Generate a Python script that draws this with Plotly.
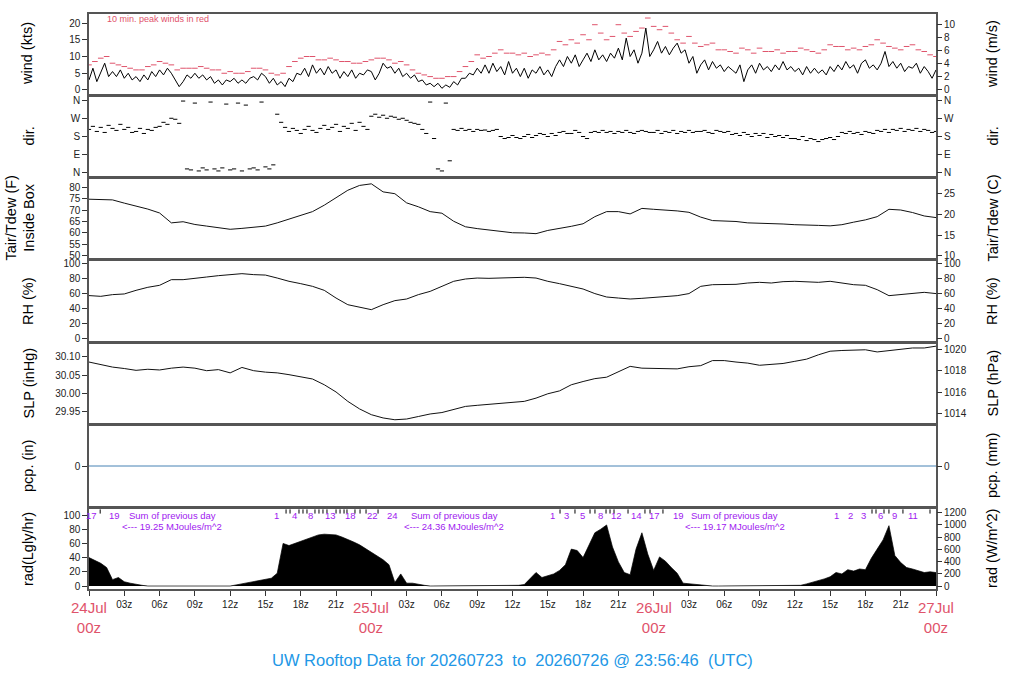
"""
UW rooftop station - 3 day meteogram (wind, dir, T, RH, SLP, pcp, rad)
"""
import numpy as np
import plotly.graph_objects as go

# ---------------- data (hours after 24Jul 00z) ----------------
# wind speed every 20 min (kts)
wind_kts = [
    3, 6.5, 2.5, 5, 8, 4, 5.5, 4, 6, 3.5, 5, 3, 4, 2.5, 4.5, 3, 5.5, 4,
    6, 4.5, 6.5, 5, 3, 1, 2.5, 4.5, 3.5, 5, 3.5, 4.5, 3, 4, 2, 3, 1.5, 3,
    2.5, 3.5, 2, 3, 2, 3.5, 4, 3, 5, 4, 2, 3.5, 1.5, 2.5, 1, 3.5, 2.5, 5,
    4.5, 6.5, 4, 7.5, 5, 6.5, 4.5, 7, 5, 6, 3.5, 5.5, 4, 6, 3.5, 5, 4.5, 6,
    5.5, 3, 5, 8, 6.5, 7, 5, 6.5, 4, 5, 3.5, 4.5, 2.5, 3, 1.5, 2, 1, 2,
    0.5, 1.5, 0.8, 2.5, 1.5, 3.5, 3.5, 5, 4.5, 6.5, 5, 7.5, 5, 8, 5.5, 7, 4.5, 8.5,
    5, 6.5, 4, 6.5, 3.5, 6, 5, 7, 4.5, 6, 4, 7, 9, 7, 10, 8, 10.5, 7,
    9, 11, 8.5, 12, 9, 10.5, 8.5, 11, 9.5, 12.5, 9, 15.5, 10, 12, 8, 11, 18.5, 10,
    12, 14.5, 11, 13, 10.5, 12.5, 14, 11, 12, 8, 10, 5, 7.5, 9, 6, 8.5, 6.5, 7.5,
    5.5, 7, 6, 5, 7.5, 2.5, 6, 7.5, 5, 8, 6, 7, 5.5, 7.5, 6, 8.5, 6, 7,
    5.5, 6.5, 4.5, 7, 5, 6.5, 5, 6, 4.5, 7, 5.5, 7.5, 6, 8.5, 6.5, 7.5, 5, 8,
    9, 6.5, 7.5, 6, 8, 11.5, 7, 8.5, 6.5, 8, 5.5, 7, 6.5, 8, 5, 7, 5.5, 3.5,
    6,
]
# 10 min peak winds, every 30 min (kts)
peak_kts = [
    7.5, 8.5, 9.5, 10, 8, 7.5, 7, 6.5, 6, 6, 7, 7.5, 8.5, 8, 7.5, 6,
    6.5, 6.5, 6.5, 7, 6.5, 6, 6, 5, 5.5, 5, 5, 5.5, 6.5, 6.5, 6, 5,
    4.5, 5, 7, 8.5, 9.5, 10, 10, 9, 9, 9.5, 9, 8.5, 8.5, 8, 8, 8.5,
    9, 9.5, 9.5, 9, 8, 8.5, 7.5, 6, 5, 4.5, 4, 3.5, 3.5, 4, 4, 5.5,
    7, 8.5, 10.5, 9.5, 10, 11, 12, 11, 11, 10.5, 11, 10, 10.5, 11, 10.5, 12,
    14.5, 13.5, 15, 14, 16.5, 15, 19.5, 17, 15, 16, 19.5, 17, 16, 17.5, 18.5, 21.5,
    19, 18, 19, 17, 15, 14, 16, 14, 13, 13.5, 14, 12, 12, 11.5, 11, 12.5,
    12, 11, 12.5, 11.5, 11.5, 12, 11, 11.5, 11.5, 12.5, 12, 11.5, 11, 12, 13.5, 13,
    13, 12, 12.5, 12, 13, 13.5, 15, 14, 13, 12.5, 12, 13, 13.5, 12, 11.5, 10.5,
    10,
]
# wind direction every 20 min (deg, 0 = N)
wind_dir = [
    215, 230, 205, 225, 200, 235, 220, 210, 240, 215, 225, 200, 205, 220, 195, 215, 210, 225,
    230, 250, 240, 270, 265, 245, 355, 20, 15, 345, 10, 25, 15, 350, 20, 10, 25, 340,
    15, 20, 345, 10, 335, 20, 25, 15, 350, 30, 20, 40, 290, 250, 225, 205, 220, 210,
    195, 215, 230, 210, 200, 220, 235, 215, 225, 240, 205, 230, 220, 245, 210, 250, 230, 215,
    280, 290, 275, 285, 270, 280, 275, 265, 270, 260, 250, 245, 240, 215, 195, 350, 170, 20,
    10, 345, 60, 215, 210, 220, 210, 215, 205, 215, 210, 212, 205, 210, 215, 180, 170, 175,
    185, 175, 170, 180, 190, 175, 185, 195, 190, 180, 195, 185, 200, 205, 195, 195, 210, 200,
    180, 170, 200, 205, 200, 210, 200, 205, 195, 205, 200, 210, 200, 195, 205, 210, 205, 200,
    200, 210, 195, 205, 200, 210, 195, 205, 200, 210, 200, 205, 205, 210, 200, 195, 210, 205,
    200, 205, 190, 195, 185, 200, 190, 180, 195, 185, 195, 175, 190, 180, 185, 175, 185, 170,
    170, 165, 180, 160, 170, 165, 155, 165, 170, 175, 165, 180, 200, 195, 205, 195, 200, 190,
    205, 200, 195, 210, 205, 215, 200, 215, 210, 220, 205, 215, 210, 220, 205, 215, 210, 200,
    205,
]
# hourly values
temp_f = [
    74.7, 74.7, 74.4, 73.0, 71.8, 70.4, 68.7, 64.4, 64.9, 63.7,
    63.0, 62.3, 61.6, 62.0, 62.6, 63.0, 64.4, 66.0, 67.9, 69.3,
    72.1, 75.4, 78.6, 80.7, 81.4, 77.9, 77.1, 73.1, 71.4, 69.3,
    68.6, 65.1, 62.7, 61.9, 61.3, 60.7, 60.1, 60.0, 59.7, 61.1,
    61.9, 62.9, 64.0, 67.1, 69.3, 69.3, 68.3, 70.7, 70.3, 70.0,
    69.6, 69.0, 66.9, 65.4, 65.3, 65.0, 64.4, 64.3, 64.0, 63.9,
    63.6, 63.6, 63.3, 63.1, 63.6, 64.7, 65.7, 67.1, 70.3, 70.0,
    68.9, 67.4, 66.7,
]
rh_pct = [
    57.3, 56.3, 58.6, 59.5, 64.4, 68.5, 71.2, 78.8, 78.8, 81.0,
    82.4, 84.2, 85.6, 86.9, 85.6, 85.0, 81.0, 76.6, 73.4, 69.8,
    64.4, 54.0, 45.0, 41.4, 38.3, 45.0, 50.5, 52.7, 58.6, 63.0,
    69.8, 76.6, 79.7, 81.0, 80.6, 81.0, 81.5, 82.0, 81.0, 76.6,
    73.4, 69.8, 66.2, 60.0, 55.4, 54.0, 52.7, 53.6, 54.5, 55.4,
    57.2, 60.0, 69.8, 72.0, 72.0, 72.5, 74.3, 75.2, 74.3, 76.1,
    76.6, 75.7, 75.2, 76.6, 74.3, 72.0, 71.2, 65.3, 57.2, 58.6,
    60.8, 61.7, 60.0,
]
slp_inhg = [
    30.086, 30.079, 30.072, 30.068, 30.063, 30.066, 30.064, 30.069, 30.072, 30.069,
    30.062, 30.065, 30.056, 30.071, 30.062, 30.058, 30.056, 30.051, 30.046, 30.039,
    30.023, 30.003, 29.977, 29.956, 29.940, 29.931, 29.926, 29.928, 29.935, 29.942,
    29.946, 29.954, 29.963, 29.966, 29.969, 29.972, 29.974, 29.977, 29.986, 29.998,
    30.006, 30.023, 30.032, 30.040, 30.044, 30.058, 30.074, 30.069, 30.069, 30.069,
    30.067, 30.073, 30.076, 30.090, 30.090, 30.086, 30.083, 30.077, 30.079, 30.082,
    30.088, 30.094, 30.106, 30.116, 30.118, 30.118, 30.120, 30.114, 30.118, 30.120,
    30.125, 30.125, 30.130,
]
pcp_hours = [0, 72]
pcp_in = [0.0, 0.0]
# solar radiation every 30 min (Langley/hr)
rad_lgly = [
    40, 36, 32, 26, 9, 12, 6, 4, 2, 1,
    0, 0, 0, 0, 0, 0, 0, 0, 0, 0, 0, 0, 0, 0,
    0, 1.5, 3, 4.5, 6, 7.5, 9, 11,
    18, 60, 57, 60, 64, 67, 70, 72,
    73, 73, 72, 69, 66, 62, 58, 53,
    48, 43, 37, 30, 5, 17, 4, 4,
    2, 1,
    0, 0, 0, 0, 0, 0, 0, 0, 0, 0, 0, 0, 0, 0,
    0, 1, 2, 10, 19, 12, 14, 17,
    22, 30, 52, 50, 40, 58, 75, 80,
    86, 55, 34, 19, 16, 52, 75, 45,
    22, 41, 35, 26, 18, 4, 3, 2,
    1.5, 0.5,
    0, 0, 0, 0, 0, 0, 0, 0, 0, 0, 0, 0, 0, 0,
    0, 1, 3, 5, 7, 10, 13, 19,
    17, 23, 21, 24, 23, 39, 52, 65,
    85, 43, 33, 26, 24, 22, 19, 20,
    19,
]
# hours at which the daily accumulated radiation passed each MJ/m^2
rad_mj_hours = [
    0.25, 0.95, 2.2,
    15.98, 16.75, 17.09, 17.43, 17.85, 18.19, 18.53, 18.87, 19.21, 19.55, 19.89, 20.23,
    20.57, 21.0, 21.34, 21.68, 21.93, 22.27, 22.61, 23.04, 23.55, 24.06, 24.57, 25.84,
    39.36, 40.04, 40.63, 41.31, 41.99, 42.59, 43.01, 43.44, 43.95, 44.29, 44.63, 44.88,
    45.82, 46.58, 47.26, 47.69, 48.11, 48.79, 50.15,
    63.5, 64.69, 65.8, 66.56, 66.9, 67.24, 67.58, 68.0, 68.43, 69.19, 70.04, 71.49,
]
rad_mj_labels = [
    '17', '', '19',
    '1', '', '', '4', '', '', '', '8', '', '', '', '', '13', '', '', '', '', '18',
    '', '', '', '22', '', '24',
    '1', '', '3', '', '5', '', '', '8', '', '', '', '12', '', '14', '', '', '17', '', '19',
    '1', '2', '3', '', '', '6', '', '', '9', '', '11', '',
]
sum_hours = [7.06, 31.03, 54.9]
sum_mjoules = [19.25, 24.36, 19.17]
day_labels = ['24Jul', '25Jul', '26Jul', '27Jul']
day_hours = [0, 24, 48, 72]

hours_20 = np.arange(len(wind_kts)) / 3.0
hours_30 = np.arange(len(peak_kts)) / 2.0
hours_1 = np.arange(len(temp_f))

# ---------------- style ----------------
FONT = 'Liberation Sans, Arial, Helvetica, sans-serif'
RED = '#DF536B'
BLUE = '#2297E6'
PURPLE = '#A020F0'
FRAME = '#555555'
TICKFONT = dict(size=10, color='#222222', family=FONT)

PLOT_TOP, PLOT_BOT = 14, 589   # px of plotting area


def dom(top, bot):
    h = PLOT_BOT - PLOT_TOP
    return [(PLOT_BOT - bot) / h, (PLOT_BOT - top) / h]


def py(px):
    return (PLOT_BOT - px) / (PLOT_BOT - PLOT_TOP)


def px_x(px):
    return (px - 89) / 847


domains = [dom(14, 94), dom(97, 176), dom(179, 258), dom(261, 341),
           dom(344, 423), dom(426, 506), dom(509, 589)]

KT2MS = 0.514444
INHG2HPA = 33.8639
LGLY2W = 11.622

left_axes = [
    dict(range=[-1.2, 22.7], tickvals=[0, 5, 10, 15, 20]),
    dict(range=[-15, 375], tickvals=[0, 90, 180, 270, 360],
         ticktext=['N', 'E', 'S', 'W', 'N']),
    dict(range=[49.1, 83.5], tickvals=[50, 55, 60, 65, 70, 75, 80]),
    dict(range=[-4, 104], tickvals=[0, 20, 40, 60, 80, 100]),
    dict(range=[29.917, 30.136], tickvals=[29.95, 30.0, 30.05, 30.10], tickformat='.2f'),
    dict(range=[-1, 1], tickvals=[0]),
    dict(range=[-4.2, 108.5], tickvals=[0, 20, 40, 60, 80, 100]),
]
right_axes = [
    dict(range=[-1.2 * KT2MS, 22.7 * KT2MS], tickvals=[0, 2, 4, 6, 8, 10]),
    dict(range=[-15, 375], tickvals=[0, 90, 180, 270, 360],
         ticktext=['N', 'E', 'S', 'W', 'N']),
    dict(range=[(49.1 - 32) * 5 / 9, (83.5 - 32) * 5 / 9], tickvals=[10, 15, 20, 25]),
    dict(range=[-4, 104], tickvals=[0, 20, 40, 60, 80, 100]),
    dict(range=[29.917 * INHG2HPA, 30.136 * INHG2HPA], tickvals=[1014, 1016, 1018, 1020]),
    dict(range=[-25.4, 25.4], tickvals=[0]),
    dict(range=[-4.2 * LGLY2W, 108.5 * LGLY2W], tickvals=[0, 200, 400, 600, 800, 1000, 1200]),
]
left_titles = ['wind (kts)', 'dir.', 'Tair/Tdew (F)<br>Inside Box', 'RH (%)',
               'SLP (inHg)', 'pcp. (in)', 'rad(Lgly/hr)']
right_titles = ['wind (m/s)', 'dir.', 'Tair/Tdew (C)', 'RH (%)',
                'SLP (hPa)', 'pcp. (mm)', 'rad (W/m^2)']
left_title_x = [27, 28, 20, 28, 28, 28, 28]

# ---------------- figure ----------------
fig = go.Figure()

fig.add_trace(go.Scatter(x=hours_20, y=wind_kts, mode='lines',
                         line=dict(color='black', width=1), xaxis='x', yaxis='y'))
fig.add_trace(go.Scatter(x=hours_30, y=peak_kts, mode='markers',
                         marker=dict(symbol='line-ew', size=4, color=RED,
                                     line=dict(width=1, color=RED)),
                         xaxis='x', yaxis='y'))
fig.add_trace(go.Scatter(x=hours_20, y=wind_dir, mode='markers',
                         marker=dict(symbol='line-ew', size=3, color='black',
                                     line=dict(width=1, color='black')),
                         xaxis='x2', yaxis='y2'))
fig.add_trace(go.Scatter(x=hours_1, y=temp_f, mode='lines',
                         line=dict(color='#111111', width=1), xaxis='x3', yaxis='y3'))
fig.add_trace(go.Scatter(x=hours_1, y=rh_pct, mode='lines',
                         line=dict(color='#111111', width=1), xaxis='x4', yaxis='y4'))
fig.add_trace(go.Scatter(x=hours_1, y=slp_inhg, mode='lines',
                         line=dict(color='#111111', width=1), xaxis='x5', yaxis='y5'))
fig.add_trace(go.Scatter(x=pcp_hours, y=pcp_in, mode='lines',
                         line=dict(color='#4682B4', width=1), xaxis='x6', yaxis='y6'))
fig.add_trace(go.Scatter(x=hours_30, y=rad_lgly, mode='lines', fill='tozeroy',
                         fillcolor='black', line=dict(color='black', width=0.7),
                         xaxis='x7', yaxis='y7'))

# small MJ tick marks along top of radiation panel
tick_h = [h for h, lab in zip(rad_mj_hours, rad_mj_labels) if lab == '']
fig.add_trace(go.Scatter(x=tick_h, y=[105] * len(tick_h), mode='markers',
                         marker=dict(symbol='line-ns', size=3, color='black',
                                     line=dict(width=1, color='black')),
                         xaxis='x7', yaxis='y7'))

# empty traces so the right hand axes get drawn
for i in range(7):
    fig.add_trace(go.Scatter(x=[None], y=[None], xaxis=f'x{i + 1}',
                             yaxis=f'y{i + 8}', hoverinfo='skip'))

layout = {}
xticks = list(range(0, 73, 3))
xtext = ['' if h % 24 == 0 else f'{h % 24:02d}z' for h in xticks]
for i in range(7):
    n = '' if i == 0 else str(i + 1)
    bottom = (i == 6)
    layout[f'xaxis{n}'] = dict(
        domain=[0, 1], anchor=f'y{n}', range=[0, 72], showgrid=False, zeroline=False,
        showline=True, mirror=True, linecolor=FRAME, linewidth=1.5,
        ticks='outside' if bottom else '', ticklen=5, tickcolor='#333333',
        tickvals=xticks if bottom else [], ticktext=xtext if bottom else [],
        showticklabels=bottom, tickfont=TICKFONT, fixedrange=True,
    )
    ly = dict(domain=domains[i], anchor=f'x{n}', side='left', showgrid=False,
              zeroline=False, showline=True, mirror=True, linecolor=FRAME, linewidth=1.5,
              ticks='outside', ticklen=5, tickcolor='#333333', tickfont=TICKFONT,
              fixedrange=True)
    ly.update(left_axes[i])
    layout[f'yaxis{n}'] = ly
    ry = dict(overlaying=f'y{n}', anchor=f'x{n}', side='right', showgrid=False,
              zeroline=False, showline=False, ticks='outside', ticklen=5,
              tickcolor='#333333', tickfont=TICKFONT, fixedrange=True)
    ry.update(right_axes[i])
    layout[f'yaxis{i + 8}'] = ry


def note(text, x, y, size, color, xref='paper', xanchor='center', angle=0):
    return dict(text=text, xref=xref, yref='paper', x=x, y=y, xanchor=xanchor,
                yanchor='middle', textangle=angle, showarrow=False,
                font=dict(size=size, color=color, family=FONT))


annotations = []
for i in range(7):
    yc = (domains[i][0] + domains[i][1]) / 2
    annotations.append(note(left_titles[i], px_x(left_title_x[i]), yc, 14.5, 'black', angle=-90))
    annotations.append(note(right_titles[i], px_x(992), yc, 14.5, 'black', angle=-90))

annotations.append(note('10 min. peak winds in red', px_x(105), py(19), 9, RED,
                        xanchor='left'))

for lab, h in zip(day_labels, day_hours):
    annotations.append(note(f'{lab}<br>00z', h, py(617), 15, RED, xref='x7'))

for h, lab in zip(rad_mj_hours, rad_mj_labels):
    if lab:
        annotations.append(note(lab, h, py(515), 9.5, PURPLE, xref='x7'))
for h, s in zip(sum_hours, sum_mjoules):
    annotations.append(note('Sum of previous day', h, py(515), 9.5, PURPLE, xref='x7'))
    annotations.append(note(f'<--- {s:.2f} MJoules/m^2', h, py(526), 9.5, PURPLE, xref='x7'))

annotations.append(note(
    'UW Rooftop Data for 20260723 &nbsp;to &nbsp;20260726 @ 23:56:46 &nbsp;(UTC)',
    px_x(512), py(660), 16.5, BLUE))

fig.update_layout(
    **layout,
    annotations=annotations,
    width=1024,
    height=700,
    margin=dict(l=89, r=88, t=PLOT_TOP, b=700 - PLOT_BOT),
    paper_bgcolor='white',
    plot_bgcolor='white',
    showlegend=False,
    hovermode=False,
    font=dict(family=FONT, color='#222222'),
)

fig.write_html("out.html", config={'displayModeBar': False},
               post_script="document.body.style.margin='0px';")
